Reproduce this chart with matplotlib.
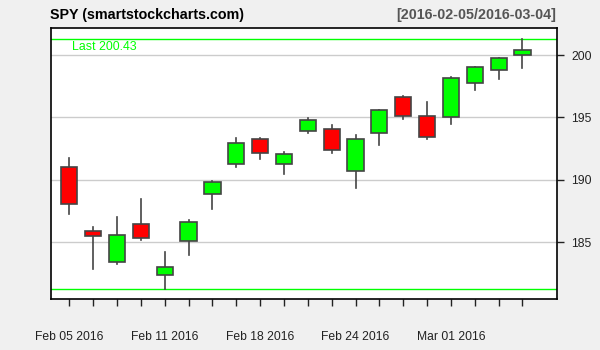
import matplotlib
matplotlib.use("Agg")
import matplotlib.pyplot as plt
from matplotlib.patches import Rectangle

plt.rcParams['font.family'] = ['Liberation Sans', 'DejaVu Sans']

# SPY daily OHLC, 2016-02-05 .. 2016-03-04
dates = ["Feb 05 2016", "Feb 08 2016", "Feb 09 2016", "Feb 10 2016", "Feb 11 2016",
         "Feb 12 2016", "Feb 16 2016", "Feb 17 2016", "Feb 18 2016", "Feb 19 2016",
         "Feb 22 2016", "Feb 23 2016", "Feb 24 2016", "Feb 25 2016", "Feb 26 2016",
         "Feb 29 2016", "Mar 01 2016", "Mar 02 2016", "Mar 03 2016", "Mar 04 2016"]
opens = [191.00, 185.89, 183.42, 186.50, 182.38, 185.06, 188.83, 191.23, 193.24, 191.23,
         193.88, 194.04, 190.67, 193.72, 196.60, 195.08, 195.00, 197.75, 198.77, 199.97]
highs = [191.74, 186.21, 187.00, 188.45, 184.20, 186.77, 189.90, 193.34, 193.34, 192.22,
         194.95, 194.39, 193.56, 195.56, 196.71, 196.23, 198.21, 199.01, 199.78, 201.28]
lows = [187.27, 182.87, 183.26, 185.19, 181.23, 183.99, 187.67, 191.04, 191.69, 190.48,
        193.77, 192.17, 189.36, 192.81, 194.89, 193.26, 194.44, 197.22, 198.10, 198.98]
closes = [188.03, 185.51, 185.54, 185.35, 183.00, 186.66, 189.79, 192.92, 192.12, 192.04,
          194.76, 192.36, 193.24, 195.56, 195.08, 193.40, 198.13, 199.01, 199.73, 200.43]
label_days = ["Feb 05 2016", "Feb 11 2016", "Feb 18 2016", "Feb 24 2016", "Mar 01 2016"]
y_ticks = [185, 190, 195, 200]

fig = plt.figure(figsize=(6, 3.5), dpi=100, facecolor='#f0f0f0')
ax = fig.add_axes([0.0842, 0.145, 0.8438, 0.774])
ax.set_facecolor('white')

for y in y_ticks:
    ax.axhline(y, color='#cccccc', lw=1, zorder=0)

# hi/lo lines
ax.axhline(max(highs), color='#00ff00', lw=1, zorder=1)
ax.axhline(min(lows), color='#00ff00', lw=1, zorder=1)

w = 0.68
for i in range(len(dates)):
    x = i + 1
    o, h, l, c = opens[i], highs[i], lows[i], closes[i]
    col = '#00ff00' if c >= o else '#ff0000'
    ax.plot([x, x], [l, h], color='#444444', lw=1.2, zorder=2)
    ax.add_patch(Rectangle((x - w / 2, min(o, c)), w, abs(c - o),
                           facecolor=col, edgecolor='#444444', lw=1.2, zorder=3))

ax.text(1.11, max(highs) - 0.15, "Last %.2f" % closes[-1], color='#00ff00',
        fontsize=8.9, va='top', ha='left')

ax.set_xlim(0.21, 21.44)
ax.set_ylim(180.43, 202.14)

ax.set_xticks(range(1, len(dates) + 1))
ax.set_xticklabels([d if d in label_days else '' for d in dates])
ax.tick_params(axis='x', length=5, width=1, pad=17.5, labelsize=8.7, colors='#222222')
ax.yaxis.tick_right()
ax.set_yticks(y_ticks)
ax.tick_params(axis='y', length=5, width=1, pad=5.5, labelsize=8.7, colors='#222222')
for s in ax.spines.values():
    s.set_linewidth(1.2)
    s.set_color('black')

fig.text(50.5 / 600, 1 - 15 / 350, "SPY (smartstockcharts.com)", fontsize=10.3,
         fontweight='bold', va='center', ha='left', color='black')
fig.text(556 / 600, 1 - 15 / 350, "[2016-02-05/2016-03-04]", fontsize=10.3,
         fontweight='bold', va='center', ha='right', color='#555555')

fig.savefig('out.png', dpi=100, facecolor=fig.get_facecolor())
